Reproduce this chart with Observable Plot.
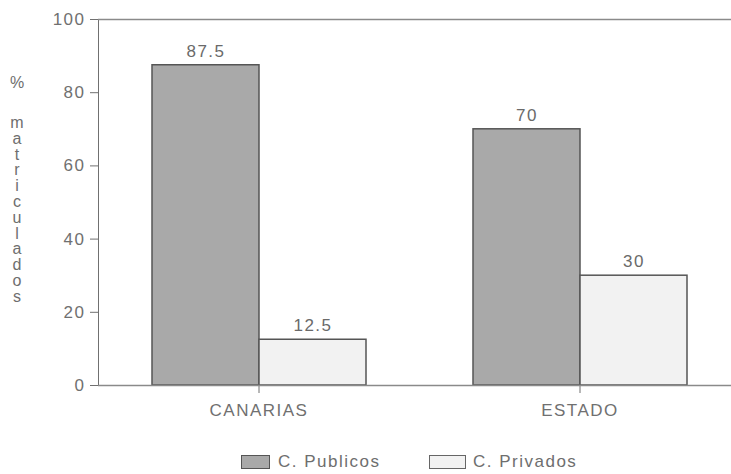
<!DOCTYPE html>
<html>
<head>
<meta charset="utf-8">
<script src="https://cdn.jsdelivr.net/npm/d3@7"></script>
<script src="https://cdn.jsdelivr.net/npm/@observablehq/plot@0.6"></script>
<style>
  html, body { margin: 0; padding: 0; background: #fff; overflow: hidden; }
  #wrap { position: relative; width: 731px; height: 474px; font-family: "Liberation Sans", Arial, sans-serif; color: #6e6e6e; }
  #ylab { position: absolute; left: 7px; top: 0; width: 20px; height: 320px; text-align: center; font-size: 16px; }
  #ylab .pct { position: absolute; top: 74px; left: 0; width: 20px; line-height: 18px; }
  #ylab .word { position: absolute; top: 115px; left: 0; width: 20px; line-height: 15.8px; white-space: pre; }
  .lg-sw { position: absolute; top: 455px; height: 14px; box-sizing: border-box; }
  .lg-tx { position: absolute; top: 452px; font-size: 17px; letter-spacing: 1.5px; line-height: 20px; white-space: nowrap; }
</style>
</head>
<body>
<div id="wrap"></div>
<script>
const categories = ["CANARIAS", "ESTADO"];
const seriesNames = ["C. Publicos", "C. Privados"];
const publicos = [87.5, 70];
const privados = [12.5, 30];
const valueLabels = [["87.5", "70"], ["12.5", "30"]];
const yTicks = [0, 20, 40, 60, 80, 100];
const fills = ["#a9a9a9", "#f2f2f2"];
const yLabelTop = "%";
const yLabelWord = "matriculados";

const data = [];
categories.forEach((c, i) => {
  data.push({cat: c, series: seriesNames[0], value: publicos[i], label: valueLabels[0][i]});
  data.push({cat: c, series: seriesNames[1], value: privados[i], label: valueLabels[1][i]});
});

const chart = Plot.plot({
  width: 731,
  height: 440,
  marginTop: 19,
  marginBottom: 55,
  marginLeft: 98,
  marginRight: 0,
  style: {fontFamily: "'Liberation Sans', Arial, sans-serif", fontSize: "17px", color: "#707070", letterSpacing: "1.5px", background: "white", overflow: "visible"},
  fx: {domain: categories, range: [98, 740], paddingInner: 0, paddingOuter: 0, label: null, axis: "bottom", tickSize: 8, tickPadding: 10},
  x: {domain: seriesNames, paddingInner: 0, paddingOuter: 0.5, axis: null},
  y: {domain: [0, 100], ticks: yTicks, tickSize: 8, tickPadding: 5, label: null, line: true, tickFormat: d => String(d)},
  color: {domain: seriesNames, range: fills},
  marks: [
    Plot.ruleY([100], {stroke: "#8a8a8a", strokeWidth: 1.5}),
    Plot.barY(data, {fx: "cat", x: "series", y: "value", fill: "series", stroke: "#555", strokeWidth: 1.5}),
    Plot.ruleY([0], {stroke: "#8a8a8a", strokeWidth: 1.5}),
    Plot.text(data, {fx: "cat", x: "series", y: "value", text: "label", dy: -14, fill: "#6a6a6a", fontSize: 17})
  ]
});

const wrap = document.getElementById("wrap");
wrap.appendChild(chart);

// y-axis label (vertical stacked letters)
const ylab = document.createElement("div");
ylab.id = "ylab";
const pct = document.createElement("div");
pct.className = "pct";
pct.textContent = yLabelTop;
const word = document.createElement("div");
word.className = "word";
word.textContent = yLabelWord.split("").join("\n");
ylab.appendChild(pct);
ylab.appendChild(word);
wrap.appendChild(ylab);

// legend
const legendPos = [{sw: 241, w: 29, tx: 278}, {sw: 429, w: 37, tx: 473}];
seriesNames.forEach((s, i) => {
  const sw = document.createElement("div");
  sw.className = "lg-sw";
  sw.style.left = legendPos[i].sw + "px";
  sw.style.width = legendPos[i].w + "px";
  sw.style.background = fills[i];
  sw.style.border = "1.5px solid " + (i === 0 ? "#555" : "#666");
  wrap.appendChild(sw);
  const tx = document.createElement("div");
  tx.className = "lg-tx";
  tx.style.left = legendPos[i].tx + "px";
  tx.textContent = s;
  wrap.appendChild(tx);
});
</script>
</body>
</html>
